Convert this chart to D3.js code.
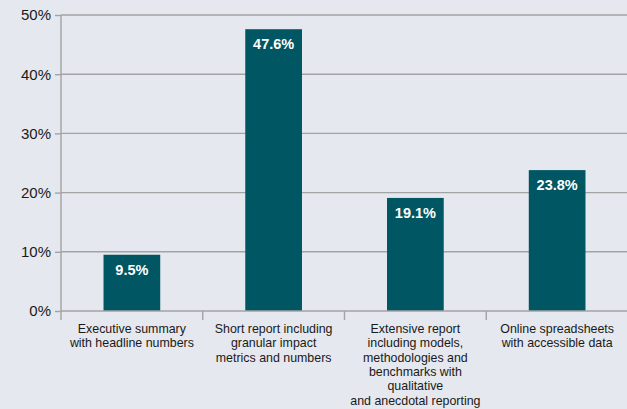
<!DOCTYPE html>
<html>
<head>
<meta charset="utf-8">
<script src="https://cdn.jsdelivr.net/npm/d3@7"></script>
<style>
  html, body { margin: 0; padding: 0; background: #e5e8ee; }
  svg { display: block; font-family: "Liberation Sans", Arial, Helvetica, sans-serif; }
</style>
</head>
<body>
<svg id="chart" width="627" height="409"></svg>
<script>
// Report formats and share of respondents preferring each
const categories = [
  "Executive summary\nwith headline numbers",
  "Short report including\ngranular impact\nmetrics and numbers",
  "Extensive report\nincluding models,\nmethodologies and\nbenchmarks with\nqualitative\nand anecdotal reporting",
  "Online spreadsheets\nwith accessible data"
];
const values = [9.5, 47.6, 19.1, 23.8];
const yTicks = [0, 10, 20, 30, 40, 50];

const W = 627, H = 409;
const margin = { left: 61, right: -1, top: 15, bottom: 98 };
const svg = d3.select("#chart");

const x = d3.scaleBand()
  .domain(categories)
  .range([margin.left, W - margin.right])
  .padding(0);

const y = d3.scaleLinear()
  .domain([0, 50])
  .range([H - margin.bottom, margin.top]);

const gridColor = "#a3a3a3";

// horizontal gridlines
svg.append("g")
  .selectAll("line")
  .data(yTicks.filter(d => d > 0))
  .join("line")
  .attr("x1", margin.left).attr("x2", W)
  .attr("y1", d => y(d)).attr("y2", d => y(d))
  .attr("stroke", gridColor).attr("stroke-width", 1.4);

// bars
const barFrac = 0.4;
svg.append("g")
  .selectAll("rect")
  .data(values)
  .join("rect")
  .attr("x", (d, i) => x(categories[i]) + x.bandwidth() * (1 - barFrac) / 2)
  .attr("width", x.bandwidth() * barFrac)
  .attr("y", d => y(d))
  .attr("height", d => y(0) - y(d))
  .attr("fill", "#005662");

// value labels inside bars
svg.append("g")
  .selectAll("text")
  .data(values)
  .join("text")
  .attr("x", (d, i) => x(categories[i]) + x.bandwidth() / 2)
  .attr("y", d => y(d) + 20)
  .attr("text-anchor", "middle")
  .attr("fill", "#ffffff")
  .attr("font-weight", "bold")
  .attr("font-size", "14.5px")
  .text(d => d.toFixed(1) + "%");

// y axis
const yAxis = d3.axisLeft(y)
  .tickValues(yTicks)
  .tickFormat(d => d + "%")
  .tickSize(6)
  .tickPadding(4);
const gy = svg.append("g")
  .attr("transform", `translate(${margin.left},0)`)
  .call(yAxis);
gy.select(".domain")
  .attr("d", `M0,${margin.top}V${y(0) + 9}`)
  .attr("stroke", gridColor).attr("stroke-width", 1.4);
gy.selectAll(".tick line").attr("stroke", gridColor).attr("stroke-width", 1.4);
gy.selectAll(".tick text")
  .attr("fill", "#1a1a1a")
  .attr("font-size", "15px")
  .attr("font-family", "Liberation Sans, Arial, sans-serif");

// x axis: baseline plus separators between categories
const gx = svg.append("g");
gx.append("line")
  .attr("x1", margin.left).attr("x2", W)
  .attr("y1", y(0)).attr("y2", y(0))
  .attr("stroke", gridColor).attr("stroke-width", 1.4);
gx.selectAll("line.sep")
  .data(categories.slice(1))
  .join("line")
  .attr("class", "sep")
  .attr("x1", d => x(d)).attr("x2", d => x(d))
  .attr("y1", y(0)).attr("y2", y(0) + 9)
  .attr("stroke", gridColor).attr("stroke-width", 1.4);

// category labels, one tspan per line
const lineH = 14.3;
gx.selectAll("text.cat")
  .data(categories)
  .join("text")
  .attr("class", "cat")
  .attr("text-anchor", "middle")
  .attr("fill", "#1a1a1a")
  .attr("font-size", "12.4px")
  .each(function (d) {
    const t = d3.select(this);
    const cx = x(d) + x.bandwidth() / 2;
    d.split("\n").forEach((ln, k) => {
      t.append("tspan")
        .attr("x", cx)
        .attr("y", y(0) + 22 + k * lineH)
        .text(ln);
    });
  });
</script>
</body>
</html>
